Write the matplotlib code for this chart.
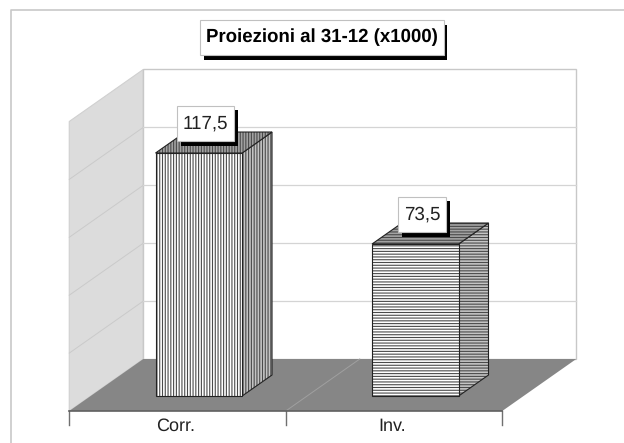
import matplotlib
matplotlib.use("Agg")
import matplotlib.pyplot as plt
from matplotlib.patches import Polygon
from matplotlib.path import Path
from matplotlib.patheffects import withSimplePatchShadow

categories = ["Corr.", "Inv."]
values = [117.5, 73.5]
value_labels = ["117,5", "73,5"]
grid_ticks = [0, 28, 56, 84, 112, 140]
hatches = ["||||||", "------"]

plt.rcParams["font.family"] = ["Liberation Sans", "DejaVu Sans"]
plt.rcParams["hatch.linewidth"] = 0.8
plt.rcParams["text.hinting"] = "none"

W, H = 624, 443
fig = plt.figure(figsize=(W / 100, H / 100), dpi=100)
ax = fig.add_axes([0, 0, 1, 1])
ax.axis("off")

# one category = 216.5 px, one value unit = 2.068 px
ax.set_xlim(-177.5 / 216.5, (W - 177.5) / 216.5)
ax.set_ylim(-(H - 411) / 2.068, 411 / 2.068)

DX, DY = 74 / 216.5, 52 / 2.068


def pt(x, v, d=0.0):
    # fake 3d: d=0 front of the floor, d=1 back wall
    return (x + d * DX, v + d * DY)


def poly(points, **kw):
    ax.add_patch(Polygon(points, closed=True, **kw))


def hatched(points, fc, hatch, zorder):
    # hatch in soft grey, outline darker on top of it
    poly(points, fc=fc, ec="#4a4a4a", hatch=hatch, lw=0, zorder=zorder)
    poly(points, fill=False, ec="#222222", lw=0.8, zorder=zorder)


def tall_box(x0, y0, width, height, mutation_size):
    # label boxes are taller than a uniform pad gives
    padx, pady = 0.3 * mutation_size, 0.47 * mutation_size
    x1, y1 = x0 + width + padx, y0 + height + pady
    x0, y0 = x0 - padx, y0 - pady
    return Path([(x0, y0), (x1, y0), (x1, y1), (x0, y1), (x0, y0)], closed=True)


left, right = -0.5, len(categories) - 0.5
top = grid_ticks[-1]
wall_line = "#c8c8c8"

# frame of the chart area, runs off the image to the right and bottom
frame_x = -166.5 / 216.5
ax.plot([frame_x, frame_x, 3], [-60, 194.0, 194.0], color="#c8c8c8", lw=1.2, zorder=1)

# walls and floor
poly([pt(left, 0, 0), pt(left, 0, 1), pt(left, top, 1), pt(left, top, 0)], fc="#dcdcdc", ec="#d0d0d0", lw=0.8, zorder=2)
poly([pt(left, 0, 1), pt(right, 0, 1), pt(right, top, 1), pt(left, top, 1)], fc="white", ec=wall_line, lw=1, zorder=2)
poly([pt(left, 0, 0), pt(right, 0, 0), pt(right, 0, 1), pt(left, 0, 1)], fc="#868686", ec="none", zorder=3)

for t in grid_ticks[1:-1]:
    ax.plot(*zip(pt(left, t, 0), pt(left, t, 1)), color="#cacaca", lw=0.7, zorder=3)
    ax.plot(*zip(pt(left, t, 1), pt(right, t, 1)), color="#d4d4d4", lw=0.9, zorder=3)
for i in range(len(categories) + 1):
    x = left + i
    if 0 < i < len(categories):
        ax.plot(*zip(pt(x, 0, 0), pt(x, 0, 1)), color="#a0a0a0", lw=0.7, zorder=3)
    ax.plot([x, x], [0, -14 / 2.068], color="#707070", lw=1, zorder=3)
ax.plot(*zip(pt(left, 0, 0), pt(right, 0, 0)), color="#606060", lw=1.2, zorder=4)

# bars
front, back = 0.288, 0.692
half = 0.2
for i, (v, h) in enumerate(zip(values, hatches)):
    x0, x1 = i - half, i + half
    hatched([pt(x1, 0, front), pt(x1, 0, back), pt(x1, v, back), pt(x1, v, front)], "#c4c4c4", h, 5)
    hatched([pt(x0, v, front), pt(x1, v, front), pt(x1, v, back), pt(x0, v, back)], "#a2a2a2", h, 5)
    hatched([pt(x0, 0, front), pt(x1, 0, front), pt(x1, v, front), pt(x0, v, front)], "white", h, 6)

    label = ax.annotate(value_labels[i], xy=pt(i, v, front), xytext=(5, 21.5), textcoords="offset points",
                        ha="center", va="center", fontsize=13.5, color="#222222", zorder=8,
                        bbox=dict(boxstyle=tall_box, fc="white", ec="#c0c0c0", lw=0.8))
    label.get_bbox_patch().set_path_effects([withSimplePatchShadow(offset=(2.5, -3.5), shadow_rgbFace="black", alpha=1)])

    ax.text(i - 0.008, -15 / 2.068, categories[i], ha="center", va="center", fontsize=13, color="#222222", zorder=8)

title = fig.text(322 / W, 1 - 37.5 / H, "Proiezioni al 31-12 (x1000)", ha="center", va="center",
                 fontsize=13.4, fontweight="bold", color="black", zorder=10,
                 bbox=dict(boxstyle=tall_box, fc="white", ec="#c0c0c0", lw=0.8))
title.get_bbox_patch().set_path_effects([withSimplePatchShadow(offset=(2.5, -3.5), shadow_rgbFace="black", alpha=1)])

fig.savefig("out.png", dpi=100)
